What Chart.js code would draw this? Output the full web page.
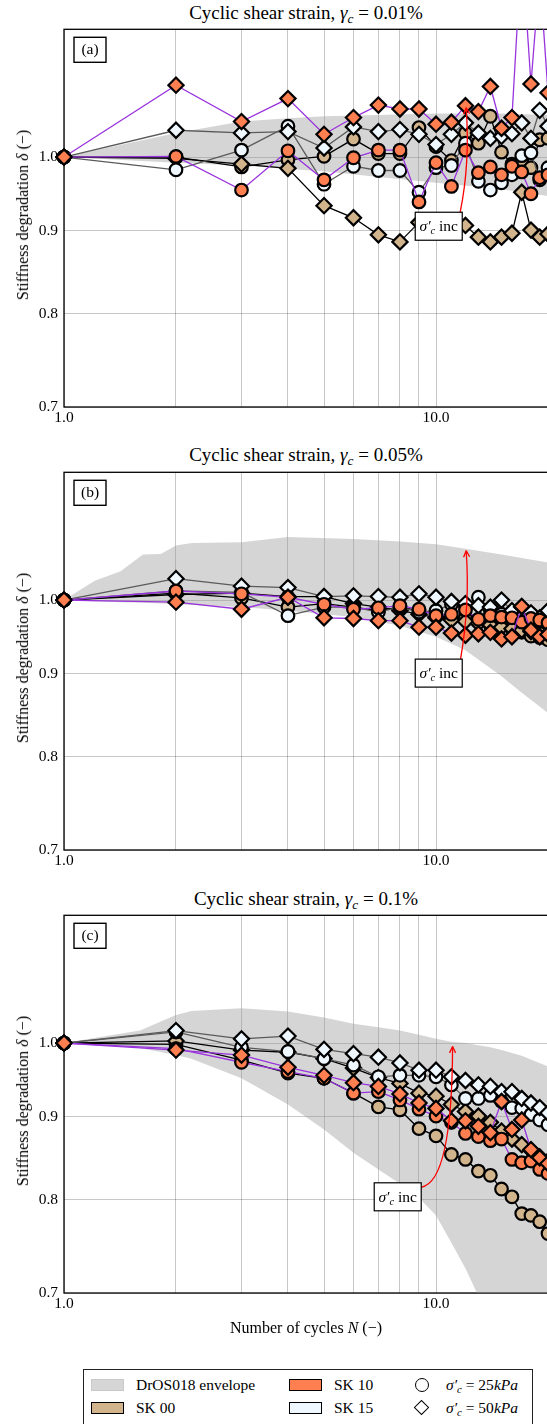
<!DOCTYPE html>
<html lang="en">
<head>
<meta charset="UTF-8" />
<title>Stiffness degradation</title>
<script src="https://cdn.jsdelivr.net/npm/chart.js@4.4.1/dist/chart.umd.min.js"></script>
<style>
  html, body { margin: 0; padding: 0; background: #fff; }
  body { width: 547px; height: 1424px; overflow: hidden; position: relative;
         font-family: 'Liberation Serif', 'DejaVu Serif', serif; color: #000; }
  .panel { position: absolute; left: 0; width: 560px; height: 423px; }
  .title { position: absolute; left: 64px; width: 484px; text-align: center; font-size: 19px; line-height: 20px; white-space: nowrap; }
  .ylab { position: absolute; left: 23px; width: 0; height: 0; }
  .ylab span { position: absolute; left: 0; top: 0; transform: translate(-50%, -50%) rotate(-90deg);
               white-space: nowrap; font-size: 16px; }
  .xlab { position: absolute; left: 64px; width: 484px; top: 1319px; text-align: center; font-size: 16px; line-height: 18px; }
  sub { font-size: 70%; vertical-align: -0.3em; line-height: 0; }
  #legend { position: absolute; left: 83px; top: 1369px; width: 450px; height: 80px; border: 1.3px solid #222; box-sizing: border-box; }
  #legend .sw { position: absolute; width: 33px; height: 12px; box-sizing: border-box; border: 1.5px solid #000; }
  #legend .tx { position: absolute; font-size: 15.5px; line-height: 18px; white-space: nowrap; }
  #legend .mk-c { position: absolute; width: 14px; height: 14px; border: 1px solid #000; border-radius: 50%; box-sizing: border-box; background: #fff; }
  #legend .mk-d { position: absolute; width: 11px; height: 11px; border: 1px solid #000; box-sizing: border-box; background: #fff; transform: rotate(45deg); }
</style>
</head>
<body>

<div class="title" style="top:3px">Cyclic shear strain, <i>γ<sub>c</sub></i> = 0.01%</div>
<div class="panel" style="top:14px"><canvas id="chartA"></canvas></div>
<div class="ylab" style="top:215px"><span>Stiffness degradation <i>δ</i> (−)</span></div>

<div class="title" style="top:445px">Cyclic shear strain, <i>γ<sub>c</sub></i> = 0.05%</div>
<div class="panel" style="top:457px"><canvas id="chartB"></canvas></div>
<div class="ylab" style="top:658px"><span>Stiffness degradation <i>δ</i> (−)</span></div>

<div class="title" style="top:889px">Cyclic shear strain, <i>γ<sub>c</sub></i> = 0.1%</div>
<div class="panel" style="top:900px"><canvas id="chartC"></canvas></div>
<div class="ylab" style="top:1101px"><span>Stiffness degradation <i>δ</i> (−)</span></div>

<div class="xlab">Number of cycles <i>N</i> (−)</div>

<div id="legend">
  <div class="sw" style="left:7px;top:9px;background:#d6d6d6;border-color:#c9c9c9"></div>
  <div class="tx" style="left:52px;top:6px">DrOS018 envelope</div>
  <div class="sw" style="left:7px;top:32px;background:#D2B48C"></div>
  <div class="tx" style="left:52px;top:29px">SK 00</div>
  <div class="sw" style="left:205px;top:9px;background:#FF7F50"></div>
  <div class="tx" style="left:250px;top:6px">SK 10</div>
  <div class="sw" style="left:205px;top:32px;background:#F0F8FF"></div>
  <div class="tx" style="left:250px;top:29px">SK 15</div>
  <div class="mk-c" style="left:331px;top:8px"></div>
  <div class="tx" style="left:362px;top:6px"><i>σ′<sub>c</sub></i> = 25<i>kPa</i></div>
  <div class="mk-d" style="left:332px;top:32px"></div>
  <div class="tx" style="left:362px;top:29px"><i>σ′<sub>c</sub></i> = 50<i>kPa</i></div>
</div>

<script>
  // cycle numbers and axis ticks
  const cycles = [1, 2, 3, 4, 5, 6, 7, 8, 9, 10, 11, 12, 13, 14, 15, 16, 17, 18, 19, 20];
  const xTicks = [1, 2, 3, 4, 5, 6, 7, 8, 9, 10, 20];
  const xLabelled = [1, 10];
  const yTicks = [0.7, 0.8, 0.9, 1.0];

  // (a) gamma_c = 0.01 %
  const a_sk10_50 = [1.000, 1.108, 1.052, 1.087, 1.033, 1.058, 1.077, 1.071, 1.071, 1.048, 1.051, 1.076, 1.067, 1.106, 1.042, 1.058, 1.350, 1.110, 1.300, 1.096];
  const a_sk10_25 = [1.000, 1.001, 0.954, 1.009, 0.968, 0.999, 1.010, 1.010, 0.938, 0.992, 0.959, 1.010, 0.978, 0.986, 0.975, 0.987, 0.979, 0.949, 0.971, 0.975];
  const a_sk15_50 = [1.000, 1.039, 1.035, 1.037, 1.013, 1.044, 1.037, 1.040, 1.033, 1.018, 1.033, 1.050, 1.035, 1.027, 1.030, 1.034, 1.050, 1.027, 1.069, 1.045];
  const a_sk15_25 = [1.000, 0.982, 1.010, 1.045, 0.962, 0.987, 0.981, 0.981, 0.951, 0.985, 0.988, 1.020, 0.966, 0.954, 0.964, 0.975, 1.002, 1.006, 0.968, 0.985];
  const a_sk00_50 = [1.000, 0.998, 0.990, 0.984, 0.933, 0.917, 0.895, 0.886, 0.911, 0.905, 0.902, 0.907, 0.892, 0.886, 0.892, 0.897, 0.951, 0.901, 0.892, 0.896];
  const a_sk00_25 = [1.000, 1.000, 0.986, 0.996, 1.001, 1.026, 1.005, 1.005, 1.043, 1.015, 0.995, 1.035, 1.020, 1.060, 1.007, 0.990, 0.996, 0.985, 1.025, 1.027];
  const a_envN  = [1, 2, 3, 4, 5, 7, 10, 15, 20];
  const a_envUp = [1.000, 1.035, 1.052, 1.057, 1.060, 1.062, 1.064, 1.064, 1.062];
  const a_envLo = [1.000, 0.992, 0.988, 0.983, 0.980, 0.972, 0.964, 0.955, 0.946];

  // (b) gamma_c = 0.05 %
  const b_sk10_50 = [1.000, 0.997, 0.987, 1.004, 0.975, 0.974, 0.971, 0.971, 0.962, 0.962, 0.954, 0.951, 0.953, 0.955, 0.946, 0.949, 0.991, 0.958, 0.949, 0.952];
  const b_sk10_25 = [1.000, 1.013, 1.009, 1.004, 0.994, 0.987, 0.989, 0.992, 0.987, 0.978, 0.980, 0.986, 0.973, 0.978, 0.976, 0.975, 0.969, 0.974, 0.972, 0.968];
  const b_sk15_50 = [1.000, 1.031, 1.020, 1.018, 1.005, 1.006, 1.005, 1.004, 1.009, 1.004, 0.998, 0.995, 0.992, 0.990, 1.000, 0.985, 0.990, 0.982, 0.975, 0.985];
  const b_sk15_25 = [1.000, 1.013, 1.011, 0.978, 0.990, 0.990, 0.983, 0.990, 0.983, 0.985, 0.994, 0.990, 1.004, 0.985, 0.980, 0.982, 0.975, 0.980, 0.970, 0.975];
  const b_sk00_50 = [1.000, 1.008, 1.010, 1.005, 1.005, 0.995, 0.990, 0.985, 0.980, 0.975, 0.972, 0.970, 0.967, 0.965, 0.962, 0.960, 0.958, 0.956, 0.955, 0.953];
  const b_sk00_25 = [1.000, 1.010, 1.003, 0.990, 0.995, 0.990, 0.985, 0.990, 0.985, 0.980, 0.975, 0.975, 0.970, 0.965, 0.965, 0.960, 0.955, 0.950, 0.948, 0.945];
  const b_envN  = [1, 1.21, 1.42, 1.63, 1.82, 2, 2.21, 3, 4, 6, 8, 10, 12, 15, 17, 20];
  const b_envUp = [1.000, 1.028, 1.042, 1.067, 1.068, 1.081, 1.085, 1.086, 1.094, 1.091, 1.087, 1.083, 1.076, 1.067, 1.062, 1.055];
  const b_envLo = [1.000, 0.998, 0.997, 0.996, 0.995, 0.994, 0.993, 0.990, 0.985, 0.976, 0.964, 0.949, 0.931, 0.897, 0.876, 0.851];

  // (c) gamma_c = 0.1 %
  const c_sk10_50 = [1.000, 0.990, 0.983, 0.966, 0.955, 0.945, 0.940, 0.930, 0.918, 0.911, 0.895, 0.895, 0.888, 0.880, 0.920, 0.884, 0.896, 0.859, 0.849, 0.842];
  const c_sk10_25 = [1.000, 0.992, 0.973, 0.960, 0.951, 0.931, 0.933, 0.922, 0.910, 0.901, 0.893, 0.879, 0.875, 0.870, 0.872, 0.847, 0.843, 0.845, 0.835, 0.830];
  const c_sk15_50 = [1.000, 1.018, 1.006, 1.010, 0.991, 0.985, 0.980, 0.972, 0.962, 0.962, 0.953, 0.948, 0.942, 0.940, 0.933, 0.933, 0.924, 0.918, 0.912, 0.905];
  const c_sk15_25 = [1.000, 1.016, 0.994, 0.988, 0.978, 0.969, 0.953, 0.955, 0.955, 0.953, 0.942, 0.924, 0.924, 0.928, 0.920, 0.912, 0.911, 0.903, 0.896, 0.890];
  const c_sk00_50 = [1.000, 1.003, 0.990, 0.987, 0.978, 0.965, 0.952, 0.944, 0.931, 0.927, 0.916, 0.907, 0.901, 0.893, 0.882, 0.872, 0.865, 0.858, 0.850, 0.845];
  const c_sk00_25 = [1.000, 0.998, 0.976, 0.958, 0.951, 0.931, 0.913, 0.909, 0.885, 0.876, 0.853, 0.847, 0.833, 0.828, 0.812, 0.803, 0.784, 0.782, 0.775, 0.762];
  const c_envN  = [1, 1.6, 2, 2.2, 3, 4, 5, 6, 7, 8, 9, 10, 11, 12, 13, 14, 15, 17, 20];
  const c_envUp = [1.000, 1.018, 1.041, 1.047, 1.051, 1.046, 1.037, 1.028, 1.023, 1.018, 1.012, 1.006, 1.002, 1.000, 0.997, 0.994, 0.990, 0.982, 0.967];
  const c_envLo = [1.000, 0.993, 0.983, 0.978, 0.951, 0.916, 0.884, 0.855, 0.835, 0.818, 0.802, 0.782, 0.752, 0.725, 0.697, 0.670, 0.650, 0.640, 0.630];

  const fillColor = { SK00: '#D2B48C', SK10: '#FF7F50', SK15: '#F0F8FF' };
  const lineColor = { SK00: '#000000', SK10: '#9933DD', SK15: '#5a5a5a' };
  const SERIF = "'Liberation Serif', 'DejaVu Serif', serif";

  Chart.defaults.font.family = SERIF;
  Chart.defaults.color = '#000';

  function seriesList(s10_50, s10_25, s15_50, s15_25, s00_50, s00_25) {
    return [
      { soil: 'SK10', stress: 50, values: s10_50 },
      { soil: 'SK10', stress: 25, values: s10_25 },
      { soil: 'SK15', stress: 50, values: s15_50 },
      { soil: 'SK15', stress: 25, values: s15_25 },
      { soil: 'SK00', stress: 50, values: s00_50 },
      { soil: 'SK00', stress: 25, values: s00_25 }
    ];
  }

  // σ'c inc label with subscript
  function drawSigmaInc(ctx, cx, cy) {
    const fBig = 'italic 15.5px ' + SERIF, fSub = 'italic 10.5px ' + SERIF, fTxt = '15.5px ' + SERIF;
    ctx.font = fBig; const w1 = ctx.measureText('σ′').width;
    ctx.font = fSub; const w2 = ctx.measureText('c').width;
    ctx.font = fTxt; const w3 = ctx.measureText(' inc').width;
    let x = cx - (w1 + w2 + w3) / 2;
    const base = cy + 5;
    ctx.fillStyle = '#000';
    ctx.textAlign = 'left';
    ctx.textBaseline = 'alphabetic';
    ctx.font = fBig; ctx.fillText('σ′', x, base); x += w1;
    ctx.font = fSub; ctx.fillText('c', x, base + 3); x += w2;
    ctx.font = fTxt; ctx.fillText(' inc', x, base);
  }

  function makePanel(canvasId, tag, series, envN, envUp, envLo, note) {
    const datasets = series.map((s, i) => ({
      data: cycles.map((n, k) => ({ x: n, y: s.values[k] })),
      borderColor: lineColor[s.soil],
      borderWidth: 1.3,
      pointStyle: s.stress === 25 ? 'circle' : 'rectRot',
      pointRadius: s.stress === 25 ? 6.3 : 7.6,
      pointBackgroundColor: fillColor[s.soil],
      pointBorderColor: '#000',
      pointBorderWidth: 2.2,
      fill: false,
      order: i,
      clip: { left: 14, right: 14, top: 0, bottom: 0 }
    }));
    datasets.push({
      data: envN.map((n, k) => ({ x: n, y: envUp[k] })),
      borderColor: 'rgba(0,0,0,0)', borderWidth: 0, pointRadius: 0,
      fill: '+1', backgroundColor: 'rgba(150,150,150,0.4)', order: 100
    });
    datasets.push({
      data: envN.map((n, k) => ({ x: n, y: envLo[k] })),
      borderColor: 'rgba(0,0,0,0)', borderWidth: 0, pointRadius: 0,
      fill: false, order: 101
    });

    const decor = {
      id: 'decor' + tag,
      beforeDatasetsDraw(chart) {
        const { ctx, chartArea: a } = chart;
        ctx.save();
        ctx.strokeStyle = '#000';
        ctx.lineWidth = 1.3;
        ctx.strokeRect(a.left, a.top, a.right - a.left, a.bottom - a.top);
        ctx.restore();
      },
      afterDatasetsDraw(chart) {
        const { ctx, chartArea: a } = chart;
        const xs = chart.scales.x, ys = chart.scales.y;
        const px = p => [xs.getPixelForValue(p[0]), ys.getPixelForValue(p[1])];
        ctx.save();

        // panel tag
        ctx.fillStyle = '#fff';
        ctx.strokeStyle = '#000';
        ctx.lineWidth = 1.4;
        ctx.fillRect(a.left + 10, a.top + 8, 32, 25);
        ctx.strokeRect(a.left + 10, a.top + 8, 32, 25);
        ctx.fillStyle = '#000';
        ctx.font = '15.5px ' + SERIF;
        ctx.textAlign = 'center';
        ctx.textBaseline = 'middle';
        ctx.fillText('(' + tag + ')', a.left + 26, a.top + 21);

        // red arrow
        const t0 = px(note.tail), c0 = px(note.ctrl), t1 = px(note.tip);
        ctx.strokeStyle = '#ff0000';
        ctx.lineWidth = 1.3;
        ctx.beginPath();
        ctx.moveTo(t0[0], t0[1]);
        ctx.quadraticCurveTo(c0[0], c0[1], t1[0], t1[1]);
        ctx.stroke();
        const ang = Math.atan2(t1[1] - c0[1], t1[0] - c0[0]);
        ctx.beginPath();
        for (const d of [-0.45, 0.45]) {
          ctx.moveTo(t1[0], t1[1]);
          ctx.lineTo(t1[0] - 7 * Math.cos(ang + d), t1[1] - 7 * Math.sin(ang + d));
        }
        ctx.stroke();

        // annotation box
        const b = px(note.box);
        ctx.fillStyle = '#fff';
        ctx.strokeStyle = '#000';
        ctx.lineWidth = 1.2;
        ctx.fillRect(b[0] - 23.5, b[1] - 14, 47, 28);
        ctx.strokeRect(b[0] - 23.5, b[1] - 14, 47, 28);
        drawSigmaInc(ctx, b[0], b[1]);
        ctx.restore();
      }
    };

    return new Chart(document.getElementById(canvasId), {
      type: 'line',
      data: { datasets },
      options: {
        responsive: true,
        maintainAspectRatio: false,
        animation: false,
        events: [],
        layout: { padding: { top: 10, right: 12, left: 0, bottom: 0 } },
        plugins: { legend: { display: false }, tooltip: { enabled: false } },
        scales: {
          x: {
            type: 'logarithmic', min: 1, max: 20, position: 'bottom',
            afterBuildTicks: s => { s.ticks = xTicks.map(v => ({ value: v })); },
            afterFit: s => { s.height = 30; },
            ticks: {
              autoSkip: false, maxRotation: 0, padding: 2, font: { size: 15.5 }, color: '#000',
              callback: v => xLabelled.includes(v) ? v.toFixed(1) : ''
            },
            grid: { color: 'rgba(0,0,0,0.22)', lineWidth: 1, drawTicks: false },
            border: { display: false }
          },
          y: {
            type: 'logarithmic', min: 0.7, max: 1.2,
            afterBuildTicks: s => { s.ticks = yTicks.map(v => ({ value: v })); },
            afterFit: s => { s.width = 64; },
            ticks: { padding: 6, font: { size: 15.5 }, color: '#000', callback: v => Number(v).toFixed(1) },
            grid: { color: 'rgba(0,0,0,0.22)', lineWidth: 1, drawTicks: false },
            border: { display: false }
          }
        }
      },
      plugins: [decor]
    });
  }

  makePanel('chartA', 'a',
    seriesList(a_sk10_50, a_sk10_25, a_sk15_50, a_sk15_25, a_sk00_50, a_sk00_25),
    a_envN, a_envUp, a_envLo,
    { box: [10.17, 0.906], tail: [11.61, 0.924], ctrl: [12.36, 0.992], tip: [12.05, 1.073] });

  makePanel('chartB', 'b',
    seriesList(b_sk10_50, b_sk10_25, b_sk15_50, b_sk15_25, b_sk00_50, b_sk00_25),
    b_envN, b_envUp, b_envLo,
    { box: [10.17, 0.901], tail: [11.61, 0.916], ctrl: [12.36, 0.994], tip: [12.05, 1.073] });

  makePanel('chartC', 'c',
    seriesList(c_sk10_50, c_sk10_25, c_sk15_50, c_sk15_25, c_sk00_50, c_sk00_25),
    c_envN, c_envUp, c_envLo,
    { box: [7.89, 0.803], tail: [9.12, 0.814], ctrl: [11.05, 0.820], tip: [11.08, 0.995] });
</script>
</body>
</html>
